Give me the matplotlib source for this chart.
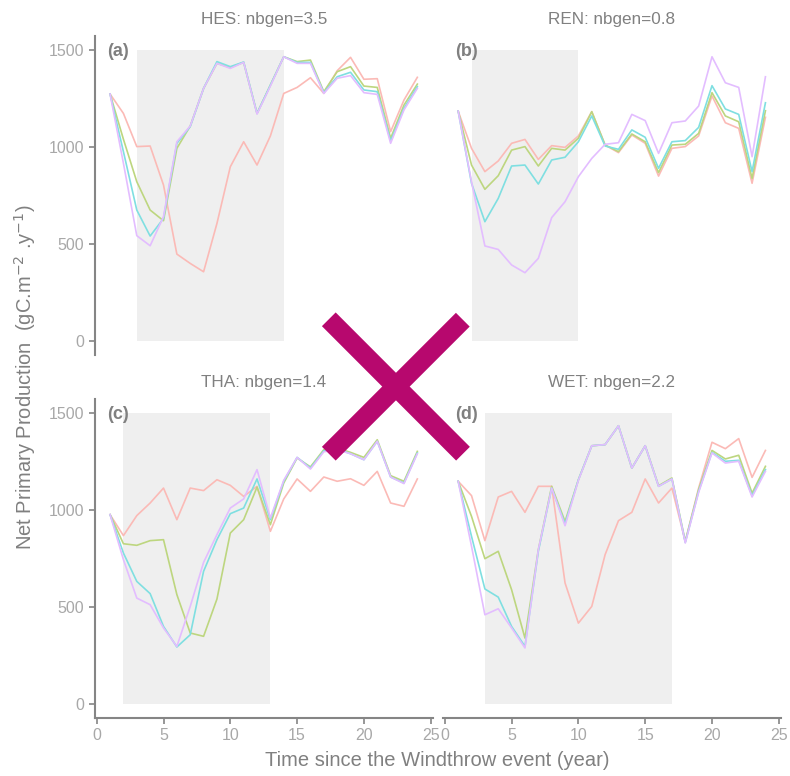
import matplotlib
matplotlib.use("Agg")
import matplotlib.pyplot as plt
from matplotlib.lines import Line2D

plt.rcParams['font.family'] = ['Liberation Sans', 'DejaVu Sans']

# années depuis le chablis
years = list(range(1, 25))

# NPP par site et par scénario (4 courbes par panneau)
hes_s1 = [1273, 1173, 1002, 1005, 804, 448, 400, 357, 606, 898, 1027, 907,
          1057, 1276, 1307, 1357, 1276, 1393, 1462, 1349, 1352, 1079, 1242, 1359]
hes_s2 = [1273, 1040, 821, 675, 620, 993, 1108, 1302, 1431, 1410, 1436, 1173,
          1319, 1465, 1440, 1448, 1285, 1388, 1414, 1314, 1307, 1045, 1216, 1324]
hes_s3 = [1273, 976, 675, 541, 632, 1019, 1105, 1302, 1440, 1414, 1438, 1173,
          1319, 1465, 1436, 1436, 1280, 1362, 1385, 1294, 1285, 1031, 1199, 1311]
hes_s4 = [1273, 916, 543, 491, 641, 1027, 1108, 1302, 1431, 1405, 1436, 1170,
          1314, 1465, 1431, 1431, 1276, 1354, 1368, 1280, 1271, 1019, 1191, 1302]

ren_s1 = [1185, 993, 873, 928, 1019, 1039, 936, 1007, 998, 1057, 1182, 1010,
          971, 1062, 1019, 850, 993, 1002, 1057, 1263, 1125, 1096, 813, 1153]
ren_s2 = [1185, 907, 782, 852, 984, 1002, 902, 993, 984, 1045, 1182, 1010,
          976, 1067, 1027, 868, 1010, 1014, 1070, 1280, 1160, 1130, 838, 1187]
ren_s3 = [1185, 813, 615, 735, 902, 907, 809, 933, 947, 1027, 1160, 1005,
          988, 1088, 1050, 890, 1027, 1033, 1101, 1316, 1196, 1168, 873, 1228]
ren_s4 = [1185, 820, 490, 472, 392, 352, 426, 636, 718, 847, 941, 1014,
          1022, 1168, 1136, 967, 1125, 1134, 1211, 1465, 1331, 1307, 950, 1362]

tha_s1 = [976, 868, 971, 1036, 1113, 950, 1113, 1100, 1156, 1127, 1070, 1122,
          890, 1057, 1160, 1096, 1170, 1148, 1161, 1127, 1199, 1036, 1019, 1160]
tha_s2 = [976, 826, 818, 842, 847, 564, 366, 349, 541, 881, 950, 1118,
          924, 1139, 1268, 1222, 1311, 1319, 1297, 1271, 1362, 1177, 1148, 1302]
tha_s3 = [976, 778, 632, 569, 400, 294, 357, 684, 847, 981, 1010, 1160,
          950, 1148, 1271, 1216, 1305, 1315, 1290, 1259, 1354, 1170, 1139, 1294]
tha_s4 = [976, 744, 546, 512, 392, 297, 503, 730, 873, 1010, 1057, 1208,
          959, 1153, 1271, 1211, 1300, 1310, 1290, 1259, 1354, 1170, 1136, 1290]

wet_s1 = [1148, 1074, 842, 1067, 1096, 988, 1122, 1122, 624, 417, 503, 770,
          945, 988, 1160, 1036, 1113, 838, 1113, 1349, 1316, 1368, 1168, 1307]
wet_s2 = [1148, 967, 749, 787, 589, 340, 795, 1122, 941, 1156, 1331, 1337,
          1434, 1216, 1331, 1125, 1165, 838, 1105, 1307, 1263, 1282, 1087, 1225]
wet_s3 = [1148, 864, 593, 551, 400, 297, 787, 1113, 929, 1156, 1331, 1337,
          1434, 1216, 1331, 1122, 1160, 833, 1096, 1297, 1251, 1256, 1074, 1208]
wet_s4 = [1148, 813, 460, 491, 392, 289, 795, 1113, 919, 1153, 1331, 1337,
          1434, 1216, 1331, 1122, 1160, 830, 1091, 1294, 1242, 1251, 1067, 1199]

titles = ['HES: nbgen=3.5', 'REN: nbgen=0.8', 'THA: nbgen=1.4', 'WET: nbgen=2.2']
letters = ['(a)', '(b)', '(c)', '(d)']
# période de régénération (zone grisée)
shade_start = [3, 2, 2, 3]
shade_end = [14, 10, 13, 17]
shade_top = 1500

series = [
    [hes_s1, hes_s2, hes_s3, hes_s4],
    [ren_s1, ren_s2, ren_s3, ren_s4],
    [tha_s1, tha_s2, tha_s3, tha_s4],
    [wet_s1, wet_s2, wet_s3, wet_s4],
]
# couleurs ggplot éclaircies (alpha 0.5 sur fond blanc)
colors = ['#FBBAB6', '#BDD67F', '#7FDFE1', '#E3BDFF']

W, H = 790, 776
fig = plt.figure(figsize=(W / 100, H / 100), dpi=100)

# positions des panneaux (en pixels: gauche, haut)
lefts = [94.7, 442.8, 94.7, 442.8]
tops = [36, 36, 399, 399]
pw, ph = 338, 319

axis_grey = '#858585'
tick_grey = '#a8a8a8'

for i in range(4):
    ax = fig.add_axes([lefts[i] / W, 1 - (tops[i] + ph) / H, pw / W, ph / H])
    ax.fill_between([shade_start[i], shade_end[i]], 0, shade_top,
                    color='#efefef', lw=0, zorder=0)
    for s, c in zip(series[i], colors):
        ax.plot(years, s, color=c, lw=1.2, zorder=2)
    ax.set_xlim(-0.15, 25.15)
    ax.set_ylim(-72, 1572)
    ax.set_xticks([0, 5, 10, 15, 20, 25])
    ax.set_yticks([0, 500, 1000, 1500])
    for sp in ['top', 'right']:
        ax.spines[sp].set_visible(False)
    for sp in ['left', 'bottom']:
        ax.spines[sp].set_color(axis_grey)
        ax.spines[sp].set_linewidth(1.5)
    ax.tick_params(colors=axis_grey, labelcolor=tick_grey, labelsize=11.5,
                   length=4, width=1.2)
    if i in (1, 3):
        ax.spines['left'].set_visible(False)
        ax.tick_params(axis='y', left=False, labelleft=False)
    if i in (0, 1):
        ax.spines['bottom'].set_visible(False)
        ax.tick_params(axis='x', bottom=False, labelbottom=False)
    ax.text(0.5, 1.053, titles[i], transform=ax.transAxes, ha='center',
            va='center', fontsize=12.3, color='#808080')
    ax.text(0.036, 0.952, letters[i], transform=ax.transAxes, ha='left',
            va='center', fontsize=13, fontweight='bold', color='#808080')

fig.text(25 / W, 1 - 377 / H,
         'Net Primary Production  (gC.m$^{-2}$ .y$^{-1}$)',
         rotation=90, ha='center', va='center', fontsize=14.5, color='#808080')
fig.text(437 / W, 1 - 760 / H, 'Time since the Windthrow event (year)',
         ha='center', va='center', fontsize=14.5, color='#808080')

# croix par-dessus la figure
cross_col = '#b7086e'
fig.add_artist(Line2D([328.8 / W, 463 / W], [1 - 319.3 / H, 1 - 453.7 / H],
                      transform=fig.transFigure, color=cross_col, lw=14,
                      solid_capstyle='butt'))
fig.add_artist(Line2D([462.8 / W, 328.8 / W], [1 - 319.7 / H, 1 - 453.7 / H],
                      transform=fig.transFigure, color=cross_col, lw=14,
                      solid_capstyle='butt'))

fig.savefig('out.png', dpi=100)
